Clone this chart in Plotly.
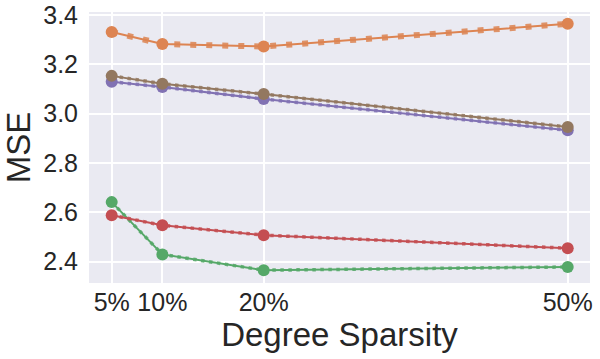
import plotly.graph_objects as go

sparsity = [5, 10, 20, 50]
tick_labels = ["5%", "10%", "20%", "50%"]
y_ticks = [2.4, 2.6, 2.8, 3.0, 3.2, 3.4]

series_orange = [3.331, 3.282, 3.272, 3.364]
series_green = [2.641, 2.429, 2.365, 2.378]
series_red = [2.588, 2.547, 2.507, 2.454]
series_purple = [3.129, 3.108, 3.059, 2.932]
series_brown = [3.153, 3.121, 3.079, 2.946]

series = [
    ("orange", series_orange, "#DD8452", "6px,10px", 6),
    ("green", series_green, "#55A868", "3.5px,4.5px", 3.5),
    ("red", series_red, "#C44E52", "3.5px,4.5px", 3.5),
    ("purple", series_purple, "#8172B3", "3.5px,4.5px", 3.5),
    ("brown", series_brown, "#937860", "3.5px,4.5px", 3.5),
]

fig = go.Figure()
for name, vals, color, dash, w in series:
    fig.add_trace(go.Scatter(
        x=sparsity, y=vals, mode="lines", name=name,
        line=dict(color=color, width=w, dash=dash), opacity=0.85,
        showlegend=False, hoverinfo="skip"))
    fig.add_trace(go.Scatter(
        x=sparsity, y=vals, mode="lines+markers", name=name,
        line=dict(color=color, width=2),
        marker=dict(color=color, size=12), showlegend=False))

font_family = "Liberation Sans, Arial, sans-serif"
fig.update_layout(
    width=600, height=359,
    margin=dict(l=89, r=10, t=12, b=76),
    paper_bgcolor="white", plot_bgcolor="#EAEAF2",
    font=dict(family=font_family, color="#262626"),
    xaxis=dict(
        range=[2.76, 52.2], tickvals=sparsity, ticktext=tick_labels,
        showgrid=True, gridcolor="white", gridwidth=1.5, zeroline=False,
        tickfont=dict(size=25), ticks="", ticklen=0, automargin=False,
        ticklabelstandoff=2,
        title=dict(text="Degree Sparsity", font=dict(size=33), standoff=2),
    ),
    yaxis=dict(
        range=[2.313, 3.412], tickvals=y_ticks, tickformat=".1f",
        showgrid=True, gridcolor="white", gridwidth=1.5, zeroline=False,
        tickfont=dict(size=25), ticks="", automargin=False,
        ticklabelstandoff=10,
        title=dict(text="MSE", font=dict(size=33), standoff=2),
    ),
)
fig.write_html("out.html", config={"displayModeBar": False},
               post_script="document.body.style.margin='0px';document.body.style.padding='0px';")
